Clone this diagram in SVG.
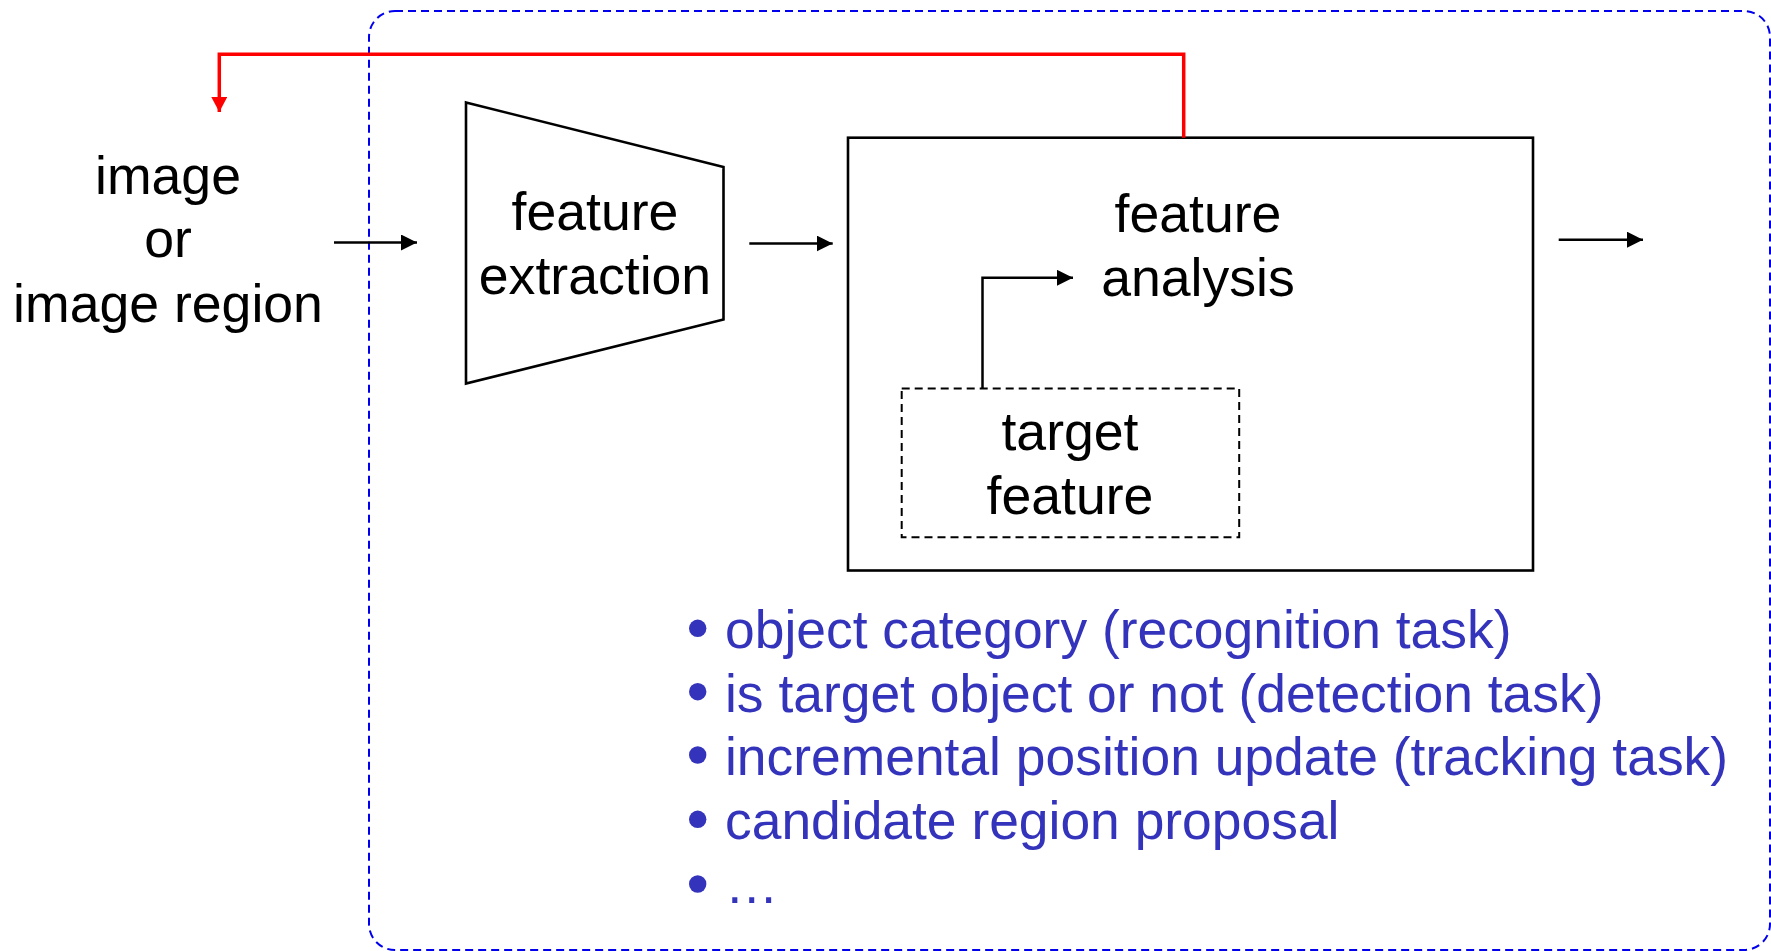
<svg xmlns="http://www.w3.org/2000/svg" width="1771" height="951" viewBox="0 0 1771 951">
  <defs>
    <style>
      .lbl { font-family: "Liberation Sans", Arial, sans-serif; font-size: 53.6px; fill: #000; text-anchor: middle; }
      .item { font-family: "Liberation Sans", Arial, sans-serif; font-size: 53.4px; fill: #3333BB; }
      .dot { fill: #3333BB; }
      .shape { fill: none; stroke: #000; stroke-width: 2.6; }
      .dash { fill: none; stroke: #000; stroke-width: 2; stroke-dasharray: 8 5; }
      .frame { fill: none; stroke: #0000EE; stroke-width: 2; stroke-dasharray: 8 5; }
      .flow { fill: none; stroke: #000; stroke-width: 2.5; }
      .feedback { fill: none; stroke: #FF0000; stroke-width: 3.5; }
    </style>
    <marker id="arrowBlack" markerUnits="userSpaceOnUse" markerWidth="18" markerHeight="16" refX="16" refY="8" orient="auto">
      <path d="M0,0 L16,8 L0,16 Z" fill="#000"/>
    </marker>
    <marker id="arrowRed" markerUnits="userSpaceOnUse" markerWidth="17" markerHeight="17" refX="15" refY="8" orient="auto">
      <path d="M0,0 L15,8 L0,16 Z" fill="#FF0000"/>
    </marker>
  </defs>

  <rect width="1771" height="951" fill="#fff"/>

  <!-- dashed frame around the processing stages -->
  <g id="frame">
    <rect class="frame" x="369" y="11" width="1401" height="939" rx="26" ry="26"/>
  </g>

  <!-- input -->
  <g id="input">
    <text class="lbl" x="168" y="193.5">image</text>
    <text class="lbl" x="168" y="257">or</text>
    <text class="lbl" x="168" y="321.5">image region</text>
  </g>

  <!-- feature extraction (trapezoid) -->
  <g id="extraction">
    <polygon class="shape" points="466,102.5 723.5,167 723.5,319.5 466,383.5"/>
    <text class="lbl" x="595" y="229.5">feature</text>
    <text class="lbl" x="595" y="293.5">extraction</text>
  </g>

  <!-- feature analysis -->
  <g id="analysis">
    <rect class="shape" x="848" y="137.7" width="685" height="432.8"/>
    <text class="lbl" x="1198" y="231.5">feature</text>
    <text class="lbl" x="1198" y="296">analysis</text>
  </g>

  <!-- target feature -->
  <g id="target">
    <rect class="dash" x="901.7" y="388.5" width="337.5" height="148.8"/>
    <text class="lbl" x="1070" y="450">target</text>
    <text class="lbl" x="1070" y="514">feature</text>
  </g>

  <!-- output list -->
  <g id="outputs">
    <circle class="dot" cx="697.7" cy="628.3" r="8.7"/>
    <text class="item" x="725" y="648.3">object category (recognition task)</text>
    <circle class="dot" cx="697.7" cy="691.7" r="8.7"/>
    <text class="item" x="725" y="711.7">is target object or not (detection task)</text>
    <circle class="dot" cx="697.7" cy="755" r="8.7"/>
    <text class="item" x="725" y="775">incremental position update (tracking task)</text>
    <circle class="dot" cx="697.7" cy="819.3" r="8.7"/>
    <text class="item" x="725" y="839.3">candidate region proposal</text>
    <circle class="dot" cx="697.7" cy="884" r="8.7"/>
    <text class="item" x="725" y="903.3">…</text>
  </g>

  <!-- connectors -->
  <g id="connectors">
    <line class="flow" x1="334" y1="242.5" x2="417" y2="242.5" marker-end="url(#arrowBlack)"/>
    <line class="flow" x1="749.3" y1="243.5" x2="832.7" y2="243.5" marker-end="url(#arrowBlack)"/>
    <line class="flow" x1="1558.7" y1="239.7" x2="1643" y2="239.7" marker-end="url(#arrowBlack)"/>
    <polyline class="flow" points="982.5,388.5 982.5,277.8 1073,277.8" marker-end="url(#arrowBlack)"/>
    <polyline class="feedback" points="1183.7,137.7 1183.7,54.3 219.3,54.3 219.3,112" marker-end="url(#arrowRed)"/>
  </g>
</svg>
